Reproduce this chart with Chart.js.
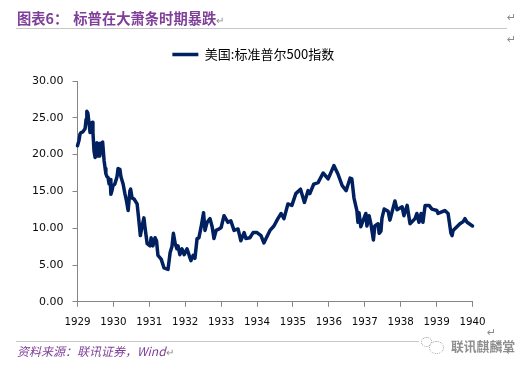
<!DOCTYPE html>
<html lang="zh">
<head>
<meta charset="utf-8">
<script src="https://cdn.jsdelivr.net/npm/chart.js@4"></script>
<style>
html,body{margin:0;padding:0;background:#fff;width:531px;height:369px;overflow:hidden}
#wrap{position:relative;width:531px;height:369px}
canvas{position:absolute;left:0;top:0}
.t{position:absolute;white-space:nowrap;font-family:"Noto Sans CJK SC",sans-serif}
#title{left:17px;top:8px;font-size:14.3px;font-weight:700;color:#7f3f98;line-height:20px}
#source{left:17px;top:342px;font-size:12px;font-style:italic;color:#7f3f98;line-height:18px}
.rule{position:absolute;height:1px;background:#c9c6c9}
.ret{position:absolute;font-size:11px;color:#8a8a8a;font-family:"DejaVu Sans",sans-serif;line-height:12px}
#mark{left:451px;top:337px;font-size:12.8px;color:#8f8f8f;line-height:18px;font-weight:700}
.logo{position:absolute;border:1px dotted #9a9a9a;border-radius:50%;background:#fff}
</style>
</head>
<body>
<div id="wrap">
<canvas id="c" width="531" height="369"></canvas>
<div class="t" id="title">图表6：<span style="display:inline-block;width:5px"></span>标普在大萧条时期暴跌<span style="color:#8a8a8a;font-weight:400;font-size:10px">↵</span></div>
<div class="rule" style="left:16px;top:28px;width:491px"></div>
<div class="ret" style="left:507px;top:12px">↵</div>
<div class="ret" style="left:507px;top:34px">↵</div>
<div class="rule" style="left:16px;top:341px;width:403px"></div>
<div class="t" id="source">资料来源：联讯证券，Wind<span style="font-style:normal;color:#8a8a8a;font-size:10px">↵</span></div>
<div class="logo" style="left:421px;top:337px;width:9px;height:8px"></div>
<div class="logo" style="left:429px;top:341px;width:13px;height:11px"></div>
<div class="t" id="mark">联讯麒麟堂</div>
<div class="ret" style="left:487px;top:327px">↵</div>
<div class="ret" style="left:506px;top:346px">↵</div>
</div>
<script>
const seriesName = "美国:标准普尔500指数";
const yearTicks = [1929,1930,1931,1932,1933,1934,1935,1936,1937,1938,1939,1940];
const yTicks = [0,5,10,15,20,25,30];
const yearsSince1929 = [0,.04,.07,.10,.15,.21,.24,.26,.29,.32,.35,.38,.42,.43,.46,.49,.52,.54,.57,.60,.62,.67,.70,.74,.77,.79,.82,.85,.88,.91,.93,.96,.99,1.04,1.10,1.13,1.18,1.21,1.27,1.32,1.36,1.41,1.46,1.48,1.52,1.57,1.66,1.71,1.75,1.80,1.85,1.88,1.94,2.02,2.05,2.10,2.16,2.20,2.24,2.33,2.41,2.52,2.58,2.63,2.67,2.72,2.77,2.80,2.85,2.91,2.97,3.05,3.13,3.16,3.22,3.27,3.33,3.38,3.44,3.51,3.55,3.61,3.69,3.75,3.80,3.86,3.94,4.00,4.08,4.19,4.27,4.36,4.47,4.55,4.64,4.69,4.80,4.89,5.00,5.11,5.19,5.25,5.36,5.47,5.58,5.67,5.75,5.86,5.97,6.08,6.21,6.32,6.42,6.47,6.58,6.70,6.84,6.98,7.14,7.25,7.37,7.48,7.59,7.64,7.70,7.78,7.81,7.84,7.89,8.03,8.06,8.12,8.17,8.24,8.28,8.37,8.40,8.45,8.48,8.54,8.65,8.70,8.84,8.90,9.04,9.09,9.18,9.26,9.40,9.45,9.51,9.57,9.62,9.68,9.79,9.87,10.01,10.04,10.23,10.32,10.40,10.43,10.46,10.65,10.74,10.79,10.85,11.00];
const prices = [21.2,21.9,22.8,23.0,23.1,23.5,24.8,25.9,25.6,24.3,23.0,24.3,24.4,23.0,20.5,19.6,20.8,21.6,19.8,21.5,19.8,21.6,21.7,19.2,18.1,17.4,17.0,16.9,16.0,16.6,14.6,15.1,15.8,16.0,17.0,18.1,18.0,17.0,16.0,14.7,13.8,12.4,15.1,15.3,14.1,14.0,13.3,11.0,9.0,10.3,11.4,10.1,7.9,7.6,8.7,7.6,8.7,8.3,6.3,5.8,4.6,4.4,6.7,7.5,9.3,7.9,7.2,7.6,6.4,7.2,6.4,7.2,6.0,5.6,6.3,5.9,8.6,8.7,10.1,12.1,9.7,10.8,11.3,10.2,8.6,9.7,9.9,10.1,11.7,10.8,11.0,9.7,9.9,8.3,9.4,8.6,8.7,9.4,9.4,9.0,8.0,8.6,9.7,10.3,11.3,12.0,11.3,13.3,13.1,14.7,15.3,13.5,15.1,14.7,16.0,16.2,17.5,16.7,18.5,17.4,15.8,15.1,16.8,16.7,14.1,12.4,10.8,12.1,10.2,12.0,10.3,11.7,10.6,8.4,10.3,10.6,9.3,9.6,11.4,12.6,12.3,11.1,13.7,12.5,12.9,11.7,13.1,10.6,11.3,12.0,10.8,12.0,10.8,13.1,13.1,12.6,12.4,12.0,12.4,12.0,9.3,9.0,9.7,10.6,10.9,11.3,10.8,10.3];

const axisGrey = "#868686";
const legendPlacement = {
  id:"legendPlacement",
  afterInit(chart){
    const fit = chart.legend.fit;
    chart.legend.fit = function(){ fit.call(this); this.height += 10; };
  },
  afterLayout(chart){ chart.legend.left += 34; }
};
new Chart(document.getElementById("c"), {
  type:"line",
  data:{datasets:[{
    label:seriesName,
    data:yearsSince1929.map((d,i)=>({x:1929+d,y:prices[i]})),
    borderColor:"#002060",backgroundColor:"#002060",
    borderWidth:3.5,pointRadius:0,tension:0,borderJoinStyle:"round",borderCapStyle:"round",clip:false
  }]},
  plugins:[legendPlacement],
  options:{
    responsive:false,animation:false,
    layout:{padding:{left:0,right:58.5,top:46,bottom:0}},
    plugins:{
      tooltip:{enabled:false},
      legend:{display:true,position:"top",
        labels:{usePointStyle:true,pointStyle:"line",pointStyleWidth:26,boxHeight:3,padding:2,color:"#000",
          font:{family:"'Noto Sans CJK SC',sans-serif",size:13}}}
    },
    scales:{
      x:{type:"linear",min:1929,max:1940,
        afterBuildTicks:s=>{s.ticks=yearTicks.map(v=>({value:v}));},
        afterFit:s=>{s.height=67.2;},
        border:{color:axisGrey,width:1},
        grid:{drawOnChartArea:false,tickLength:5,tickColor:axisGrey,tickWidth:1},
        ticks:{color:"#0b0b0b",font:{family:"'DejaVu Sans',sans-serif",size:10.3},padding:9,maxRotation:0,autoSkip:false,callback:v=>String(v)}},
      y:{min:0,max:30,
        afterBuildTicks:s=>{s.ticks=yTicks.map(v=>({value:v}));},
        afterFit:s=>{s.width=77.5;},
        border:{color:axisGrey,width:1},
        grid:{drawOnChartArea:false,tickLength:5,tickColor:axisGrey,tickWidth:1},
        ticks:{color:"#0b0b0b",font:{family:"'DejaVu Sans',sans-serif",size:11},padding:9,callback:v=>v.toFixed(2)}}
    }
  }
});
</script>
</body>
</html>
